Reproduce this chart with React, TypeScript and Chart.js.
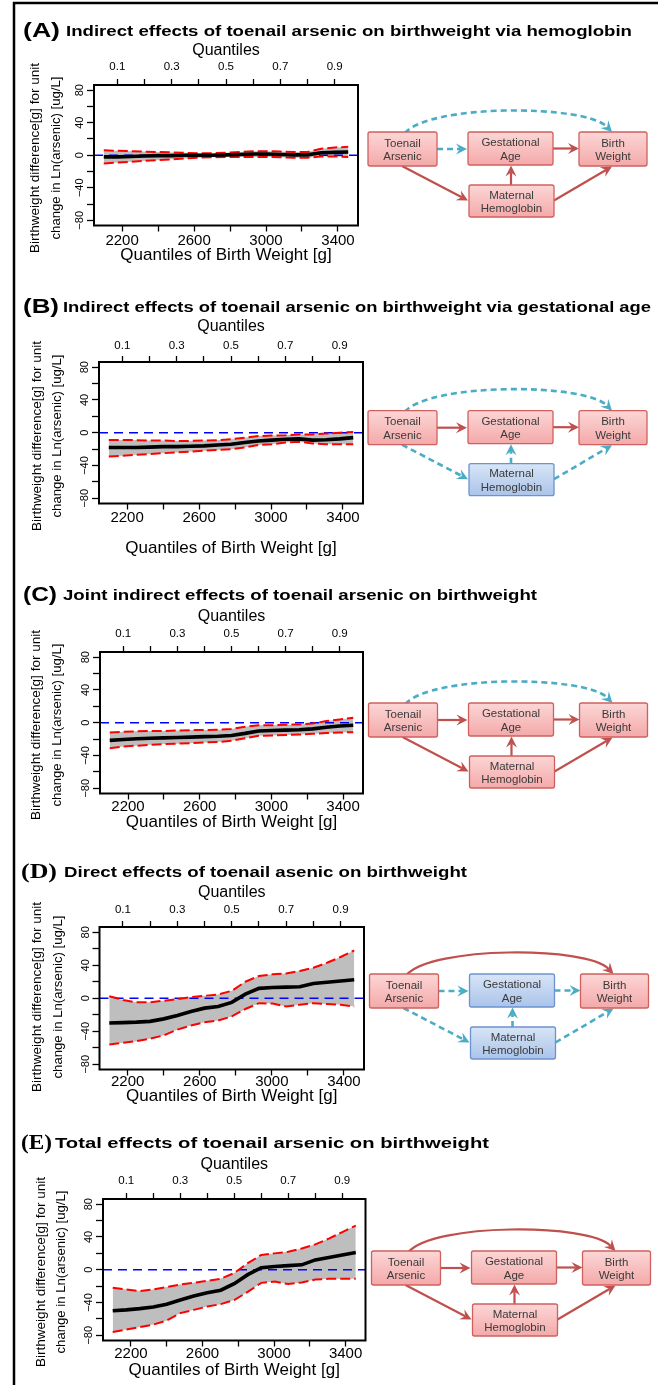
import React, { useEffect, useRef } from "react";
import { Chart, registerables } from "chart.js";
Chart.register(...registerables);

// ---------------- data ----------------
const quantiles = [0.05, 0.1, 0.15, 0.2, 0.25, 0.3, 0.35, 0.4, 0.45, 0.5, 0.55, 0.6, 0.65, 0.7, 0.75, 0.8, 0.85, 0.9, 0.95];
const quantileLabels = [0.1, 0.3, 0.5, 0.7, 0.9];
const weightLabels = [2200, 2600, 3000, 3400];
const effectLabels = [-80, -40, 0, 40, 80];
const weightAtFirstQ = 2098;
const weightAtLastQ = 3457;
const effectLimit = 80;

// (A) via hemoglobin
const estA = [-2, -2, -1.5, -1, -0.5, -0.5, 0, 0, 0, 0.5, 1, 1.5, 1.5, 1, 0.5, 0.5, 3, 3.5, 4];
const lowA = [-10, -9, -8, -7, -6, -5, -4, -3, -2.5, -2, -2, -2, -2, -2.5, -3, -3, -1.5, -1.5, -2];
const upA = [6, 5.5, 5, 4.5, 4, 3.5, 3, 2.5, 2.5, 3, 4, 5, 5, 4.5, 4, 4, 8, 9.5, 10.5];
// (B) via gestational age
const estB = [-18, -18, -18, -17.5, -17, -17, -16.5, -16, -15, -14, -12, -10, -9, -8, -7.5, -9, -8.5, -7.5, -6];
const lowB = [-29, -28, -27, -26, -25, -24, -23, -22, -21, -20, -18, -15, -14, -12, -11, -13, -14, -14, -14];
const upB = [-9, -9, -9, -9.5, -9.5, -10, -10, -9.5, -9, -8, -6, -4, -3.5, -3, -2, -2, -1, 0, 1];
// (C) joint indirect
const estC = [-21.5, -20.5, -19.5, -19, -18.5, -18, -17.5, -17, -16.5, -15.5, -13, -10, -9.5, -9, -8.5, -7.5, -5.5, -4, -3];
const lowC = [-31, -29, -28, -27, -26, -25.5, -25, -24, -23.5, -22, -19, -16, -15.5, -15, -14.5, -13.5, -12.5, -12, -11.5];
const upC = [-12, -11, -10.5, -10, -10, -9.5, -9, -9, -8.5, -7.5, -5, -3, -3, -2.5, -2, -1, 2, 4, 6];
// (D) direct
const estD = [-30, -29.5, -29, -28, -25, -21, -16, -12, -10, -5, 5, 12, 13, 13.5, 14, 18, 19.5, 21, 22.5];
const lowD = [-56, -54, -52, -49, -45, -38, -33, -29, -27, -22, -13, -6, -6.5, -10, -8, -6, -7, -8, -10];
const upD = [2.5, -2, -5, -5, -3, -1, 1.5, 3, 4.5, 9, 20, 27, 29, 30, 33, 37, 43, 50, 58];
// (E) total
const estE = [-50, -49, -47.5, -45.5, -42, -37, -32, -28, -25, -17, -6, 2.5, 4, 5, 6, 12, 15, 18, 21];
const lowE = [-76, -73, -70, -67, -62, -53, -49, -45, -42, -37, -27, -16, -14.5, -17.5, -15.5, -12, -11, -11, -11];
const upE = [-22, -24, -26, -24, -21, -18, -16, -13.5, -11, -4, 8, 18, 20, 22, 26, 31, 38, 46, 54];

// ---------------- layout / style ----------------
const FONT = '"Liberation Sans", Arial, Helvetica, sans-serif';
const SERIF = '"Liberation Serif", "Times New Roman", serif';
const CANVAS_LEFT = 16;

type Box = { l: number; r: number; t: number; b: number };
type PanelSpec = {
  est: number[];
  low: number[];
  up: number[];
  box: Box;
  qTitleY: number;
  qTickY: number;
  wTickY: number;
  wTitleY: number;
};

const panels: PanelSpec[] = [
  { est: estA, low: lowA, up: upA, box: { l: 94, r: 358, t: 85, b: 225 }, qTitleY: 51, qTickY: 67, wTickY: 240, wTitleY: 255 },
  { est: estB, low: lowB, up: upB, box: { l: 99, r: 363, t: 362, b: 503 }, qTitleY: 327, qTickY: 346, wTickY: 517, wTitleY: 548 },
  { est: estC, low: lowC, up: upC, box: { l: 100, r: 363, t: 652, b: 793 }, qTitleY: 617, qTickY: 634, wTickY: 806, wTitleY: 822 },
  { est: estD, low: lowD, up: upD, box: { l: 99.5, r: 364, t: 927, b: 1069 }, qTitleY: 893, qTickY: 910, wTickY: 1081, wTitleY: 1096 },
  { est: estE, low: lowE, up: upE, box: { l: 103, r: 365.5, t: 1199, b: 1340 }, qTitleY: 1165, qTickY: 1181, wTickY: 1353, wTitleY: 1370 },
];

const frame = (box: Box) => ({
  id: "frame",
  beforeDatasetsDraw(chart: any) {
    const { ctx, chartArea: a, scales } = chart;
    const y0 = scales.y.getPixelForValue(0);
    ctx.save();
    ctx.strokeStyle = "#0000ff";
    ctx.lineWidth = 1.6;
    ctx.setLineDash([9, 6]);
    ctx.beginPath();
    ctx.moveTo(a.left, y0);
    ctx.lineTo(a.right, y0);
    ctx.stroke();
    ctx.restore();
  },
  afterDraw(chart: any) {
    const { ctx, chartArea: a, scales } = chart;
    ctx.save();
    ctx.strokeStyle = "#000";
    ctx.lineWidth = 2;
    ctx.strokeRect(a.left, a.top, a.right - a.left, a.bottom - a.top);
    ctx.fillStyle = "#000";
    ctx.font = `11px ${FONT}`;
    ctx.textAlign = "center";
    ctx.textBaseline = "middle";
    for (const v of effectLabels) {
      const py = scales.y.getPixelForValue(v);
      ctx.save();
      ctx.translate(a.left - 14, py);
      ctx.rotate(-Math.PI / 2);
      ctx.fillText(v < 0 ? "\u2212" + Math.abs(v) : String(v), 0, 0);
      ctx.restore();
    }
    ctx.restore();
  },
});

function buildConfig(p: PanelSpec, cTop: number, cH: number, cW: number): any {
  const qLo = quantiles[0];
  const qHi = quantiles[quantiles.length - 1];
  const qPad = (qHi - qLo) * 0.04;
  const wPad = (weightAtLastQ - weightAtFirstQ) * 0.04;
  const yLim = effectLimit * 1.08;
  const pts = (arr: number[]) => quantiles.map((q, i) => ({ x: q, y: arr[i] }));
  const box = p.box;
  const tickGrid = (len: number) => ({
    display: true,
    drawOnChartArea: false,
    drawTicks: true,
    tickLength: len,
    tickColor: "#000",
    tickWidth: 1.3,
  });
  return {
    type: "line",
    data: {
      datasets: [
        { label: "lower", data: pts(p.low), xAxisID: "xq", yAxisID: "y", borderColor: "#ff0000", borderWidth: 2, borderDash: [10, 4], pointRadius: 0, fill: false, tension: 0, order: 1 },
        { label: "upper", data: pts(p.up), xAxisID: "xq", yAxisID: "y", borderColor: "#ff0000", borderWidth: 2, borderDash: [10, 4], pointRadius: 0, fill: "-1", backgroundColor: "#bebebe", tension: 0, order: 2 },
        { label: "estimate", data: pts(p.est), xAxisID: "xq", yAxisID: "y", borderColor: "#000000", borderWidth: 3.6, pointRadius: 0, fill: false, tension: 0, order: 0 },
      ],
    },
    options: {
      responsive: false,
      animation: false,
      devicePixelRatio: 1,
      events: [],
      layout: { padding: { left: 0, top: 0, bottom: 0, right: cW - (box.r - CANVAS_LEFT) } },
      plugins: {
        legend: { display: false },
        tooltip: { enabled: false },
        filler: { drawTime: "beforeDatasetsDraw" },
      },
      scales: {
        x: {
          type: "linear",
          position: "bottom",
          min: weightAtFirstQ - wPad,
          max: weightAtLastQ + wPad,
          afterFit: (s: any) => { s.height = cTop + cH - box.b; },
          border: { display: false },
          grid: tickGrid(6),
          ticks: {
            stepSize: 200,
            includeBounds: false,
            autoSkip: false,
            maxRotation: 0,
            minRotation: 0,
            color: "#000",
            padding: p.wTickY - box.b - 6 - 7.5,
            font: { family: FONT, size: 15, lineHeight: 1 },
            callback: (v: number) => (weightLabels.includes(Math.round(v)) ? String(Math.round(v)) : ""),
          },
          title: { display: true, text: "Quantiles of Birth Weight [g]", color: "#000", font: { family: FONT, size: 17, lineHeight: 1 }, padding: { top: 0, bottom: 0 } },
        },
        xq: {
          type: "linear",
          position: "top",
          min: qLo - qPad,
          max: qHi + qPad,
          afterFit: (s: any) => { s.height = box.t - cTop; },
          border: { display: false },
          grid: tickGrid(6),
          ticks: {
            stepSize: 0.1,
            includeBounds: false,
            autoSkip: false,
            maxRotation: 0,
            minRotation: 0,
            color: "#000",
            padding: box.t - 6 - 5.75 - p.qTickY,
            font: { family: FONT, size: 11.5, lineHeight: 1 },
            callback: (v: number) => (quantileLabels.some((t) => Math.abs(t - v) < 1e-6) ? v.toFixed(1) : ""),
          },
          title: { display: true, text: "Quantiles", color: "#000", font: { family: FONT, size: 16, lineHeight: 1 }, padding: { top: 0, bottom: 0 } },
        },
        y: {
          type: "linear",
          position: "left",
          min: -yLim,
          max: yLim,
          afterFit: (s: any) => { s.width = box.l - CANVAS_LEFT; },
          border: { display: false },
          grid: tickGrid(7),
          ticks: { display: false, stepSize: 20, includeBounds: false, autoSkip: false },
          title: { display: false },
        },
      },
    },
    plugins: [frame(box)],
  };
}

function PanelChart({ p }: { p: PanelSpec }) {
  const ref = useRef<HTMLCanvasElement>(null);
  const cTop = p.qTitleY - 8;
  const cH = p.wTitleY + 8.5 - cTop;
  const cW = Math.round(p.box.r + 6 - CANVAS_LEFT);
  useEffect(() => {
    const chart = new Chart(ref.current as HTMLCanvasElement, buildConfig(p, cTop, cH, cW));
    return () => chart.destroy();
  }, []);
  return (
    <canvas
      ref={ref}
      width={cW}
      height={Math.round(cH)}
      style={{ position: "absolute", left: CANVAS_LEFT, top: cTop, width: cW, height: Math.round(cH) }}
    />
  );
}

// ---------------- diagram ----------------
const RED = "#c0504d";
const TEAL = "#4bacc6";
type Kind = "r" | "d";
type Pt = [number, number];

function Arrow({ p0, p1, c1, c2, kind }: { p0: Pt; p1: Pt; c1?: Pt; c2?: Pt; kind: Kind }) {
  const color = kind === "r" ? RED : TEAL;
  const from = c2 ? c2 : p0;
  const dx = p1[0] - from[0];
  const dy = p1[1] - from[1];
  const len = Math.hypot(dx, dy);
  const ux = dx / len;
  const uy = dy / len;
  const nx = -uy;
  const ny = ux;
  const L = 11;
  const W = 5.5;
  const N = 7;
  const end: Pt = [p1[0] - ux * N, p1[1] - uy * N];
  const d = c1 && c2
    ? `M${p0[0]},${p0[1]} C${c1[0]},${c1[1]} ${c2[0]},${c2[1]} ${end[0]},${end[1]}`
    : `M${p0[0]},${p0[1]} L${end[0]},${end[1]}`;
  const head = [
    [p1[0], p1[1]],
    [p1[0] - ux * L + nx * W, p1[1] - uy * L + ny * W],
    [end[0], end[1]],
    [p1[0] - ux * L - nx * W, p1[1] - uy * L - ny * W],
  ];
  return (
    <g>
      <path d={d} fill="none" stroke={color} strokeWidth={kind === "r" ? 2.2 : 2.6} strokeDasharray={kind === "r" ? undefined : "6 4"} />
      <polygon points={head.map((q) => q.join(",")).join(" ")} fill={color} />
    </g>
  );
}

function NodeBox({ x, y, w, h, lines, blue }: { x: number; y: number; w: number; h: number; lines: string[]; blue?: boolean }) {
  return (
    <g>
      <rect x={x} y={y} width={w} height={h} rx={2} fill={blue ? "url(#gblue)" : "url(#gpink)"} stroke={blue ? "#6d93cf" : "#d0605e"} strokeWidth={1.3} />
      <text x={x + w / 2} y={y + h / 2 - 6.3} textAnchor="middle" dominantBaseline="central" fontFamily={FONT} fontSize={11.5} fill="#3a3a3a">{lines[0]}</text>
      <text x={x + w / 2} y={y + h / 2 + 7.3} textAnchor="middle" dominantBaseline="central" fontFamily={FONT} fontSize={11.5} fill="#3a3a3a">{lines[1]}</text>
    </g>
  );
}

type Variant = { arc: Kind; tg: Kind; gb: Kind; mg: Kind; tm: Kind; mb: Kind; gBlue?: boolean; mBlue?: boolean };

function Diagram({ dx, dy, v }: { dx: number; dy: number; v: Variant }) {
  return (
    <g transform={`translate(${dx},${dy})`}>
      <Arrow p0={[405, 133]} c1={[430, 104]} c2={[585, 104]} p1={[612, 132]} kind={v.arc} />
      <Arrow p0={[437, 149]} p1={[467, 149]} kind={v.tg} />
      <Arrow p0={[553, 148.5]} p1={[579, 148.5]} kind={v.gb} />
      <Arrow p0={[511, 185]} p1={[511, 165.5]} kind={v.mg} />
      <Arrow p0={[402, 166]} p1={[468, 200.5]} kind={v.tm} />
      <Arrow p0={[554, 200.5]} p1={[612, 166.5]} kind={v.mb} />
      <NodeBox x={368} y={132} w={69} h={34} lines={["Toenail", "Arsenic"]} />
      <NodeBox x={468} y={132} w={85} h={33} lines={["Gestational", "Age"]} blue={v.gBlue} />
      <NodeBox x={579} y={132} w={68} h={34} lines={["Birth", "Weight"]} />
      <NodeBox x={469} y={185} w={85} h={32} lines={["Maternal", "Hemoglobin"]} blue={v.mBlue} />
    </g>
  );
}

const diagrams: { dx: number; dy: number; v: Variant }[] = [
  { dx: 0, dy: 0, v: { arc: "d", tg: "d", gb: "r", mg: "r", tm: "r", mb: "r" } },
  { dx: 0, dy: 278.7, v: { arc: "d", tg: "r", gb: "r", mg: "d", tm: "d", mb: "d", mBlue: true } },
  { dx: 0.5, dy: 571, v: { arc: "d", tg: "r", gb: "r", mg: "r", tm: "r", mb: "r" } },
  { dx: 1.5, dy: 842, v: { arc: "r", tg: "d", gb: "d", mg: "d", tm: "d", mb: "d", gBlue: true, mBlue: true } },
  { dx: 3.5, dy: 1119, v: { arc: "r", tg: "r", gb: "r", mg: "r", tm: "r", mb: "r" } },
];

const titles = [
  { tag: "(A)", tagX: 23, tagW: 37, serif: false, text: "Indirect effects of toenail arsenic on birthweight via hemoglobin", x: 66, w: 566, y: 30 },
  { tag: "(B)", tagX: 23, tagW: 36, serif: false, text: "Indirect effects of toenail arsenic on birthweight via gestational age", x: 63, w: 588, y: 306 },
  { tag: "(C)", tagX: 23, tagW: 34, serif: false, text: "Joint indirect effects of toenail arsenic on birthweight", x: 63, w: 474, y: 594 },
  { tag: "(D)", tagX: 21, tagW: 36, serif: true, text: "Direct effects of toenail asenic on birthweight", x: 64, w: 403, y: 871 },
  { tag: "(E)", tagX: 21, tagW: 31, serif: true, text: "Total effects of toenail arsenic on birthweight", x: 55, w: 434, y: 1142 },
];

const yTitles = [
  { x1: 34, x2: 55, y: 158 },
  { x1: 36.5, x2: 56.5, y: 436 },
  { x1: 35, x2: 56, y: 725 },
  { x1: 36.5, x2: 57, y: 997 },
  { x1: 40, x2: 60, y: 1272 },
];

function Overlay() {
  return (
    <svg width={658} height={1385} style={{ position: "absolute", left: 0, top: 0, pointerEvents: "none" }}>
      <defs>
        <linearGradient id="gpink" x1="0" y1="0" x2="0" y2="1">
          <stop offset="0" stopColor="#fcd6d6" />
          <stop offset="1" stopColor="#f4a9a9" />
        </linearGradient>
        <linearGradient id="gblue" x1="0" y1="0" x2="0" y2="1">
          <stop offset="0" stopColor="#d8e5f6" />
          <stop offset="1" stopColor="#aac4ea" />
        </linearGradient>
      </defs>
      <line x1={13} y1={3} x2={658} y2={3} stroke="#000" strokeWidth={2.5} />
      <line x1={14} y1={2} x2={14} y2={1385} stroke="#000" strokeWidth={2.5} />
      {titles.map((t, i) => (
        <g key={"t" + i}>
          <text x={t.tagX} y={t.y} dominantBaseline="central" fontFamily={t.serif ? SERIF : FONT} fontWeight="bold" fontSize={20} textLength={t.tagW} lengthAdjust="spacingAndGlyphs">{t.tag}</text>
          <text x={t.x} y={t.y} dominantBaseline="central" fontFamily={FONT} fontWeight="bold" fontSize={15} textLength={t.w} lengthAdjust="spacingAndGlyphs">{t.text}</text>
        </g>
      ))}
      {yTitles.map((t, i) => (
        <g key={"y" + i} fontFamily={FONT} fontSize={13.5} fill="#000">
          <text transform={`translate(${t.x1},${t.y}) rotate(-90)`} textAnchor="middle" dominantBaseline="central" textLength={190} lengthAdjust="spacingAndGlyphs">Birthweight difference[g] for unit</text>
          <text transform={`translate(${t.x2},${t.y}) rotate(-90)`} textAnchor="middle" dominantBaseline="central" textLength={163} lengthAdjust="spacingAndGlyphs">change in Ln(arsenic) [ug/L]</text>
        </g>
      ))}
      {diagrams.map((d, i) => (
        <Diagram key={"d" + i} dx={d.dx} dy={d.dy} v={d.v} />
      ))}
    </svg>
  );
}

export default function App() {
  return (
    <div style={{ position: "absolute", left: 0, top: 0, width: 658, height: 1385, overflow: "hidden", background: "#fff" }}>
      {panels.map((p, i) => (
        <PanelChart key={i} p={p} />
      ))}
      <Overlay />
    </div>
  );
}
